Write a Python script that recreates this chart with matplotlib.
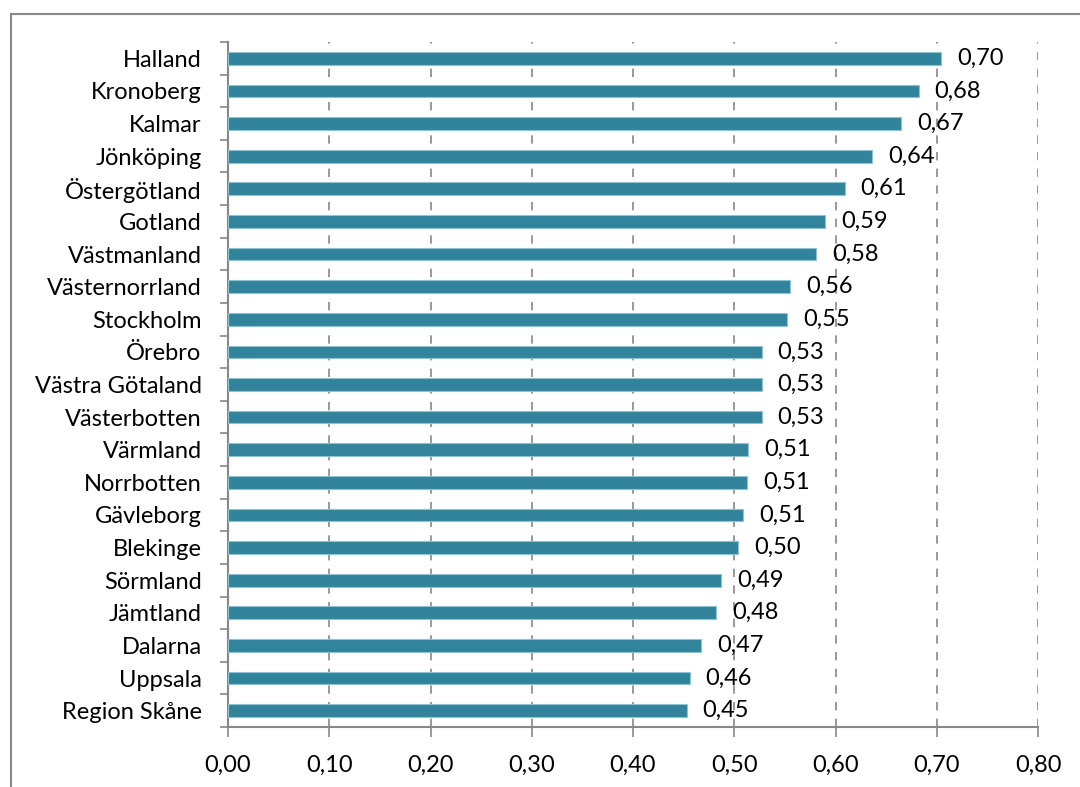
import matplotlib
matplotlib.use("Agg")
import matplotlib.pyplot as plt
from matplotlib.patches import Rectangle
from matplotlib.ticker import FixedLocator

regions = ["Halland", "Kronoberg", "Kalmar", "Jönköping", "Östergötland", "Gotland",
           "Västmanland", "Västernorrland", "Stockholm", "Örebro", "Västra Götaland",
           "Västerbotten", "Värmland", "Norrbotten", "Gävleborg", "Blekinge",
           "Sörmland", "Jämtland", "Dalarna", "Uppsala", "Region Skåne"]
values = [0.704, 0.682, 0.665, 0.636, 0.609, 0.590, 0.581, 0.555, 0.552, 0.527, 0.527,
          0.527, 0.514, 0.513, 0.509, 0.504, 0.487, 0.482, 0.467, 0.456, 0.453]
xticks = [0.0, 0.1, 0.2, 0.3, 0.4, 0.5, 0.6, 0.7, 0.8]

plt.rcParams['font.family'] = ['Lato', 'DejaVu Sans']
FS = 17

fig = plt.figure(figsize=(10.8, 7.87), dpi=100)
ax = fig.add_axes([228/1080, 1-727/787, 810/1080, 685/787])

n = len(regions)
ypos = list(range(n))[::-1]
bar_color = "#31849B"
ax.barh(ypos, values, height=0.39, color=bar_color, edgecolor="#8FC3D0", linewidth=0.8, zorder=3)

for y, v in zip(ypos, values):
    ax.annotate(f"{v:.2f}".replace(".", ","), xy=(v, y), xytext=(16, 0),
                textcoords="offset pixels", ha="left", va="center", fontsize=FS, color="black", zorder=4)

ax.set_xlim(0, 0.8)
ax.set_ylim(-0.5, n - 0.5)
ax.set_xticks(xticks)
ax.set_xticklabels([f"{t:.2f}".replace(".", ",") for t in xticks], fontsize=FS)
ax.set_yticks(ypos)
ax.set_yticklabels(regions, fontsize=FS)
ax.tick_params(axis='y', which='major', length=0, pad=19)
ax.yaxis.set_minor_locator(FixedLocator([i - 0.5 for i in range(n + 1)]))
ax.tick_params(axis='y', which='minor', length=6, width=1.2, color="#888888")
ax.tick_params(axis='x', which='major', length=7, width=1.2, color="#888888", pad=13)

for t in xticks[1:]:
    ax.axvline(t, color="#888888", linestyle=(0, (5, 5)), linewidth=1.2, zorder=1)

for s in ["top", "right"]:
    ax.spines[s].set_visible(False)
for s in ["left", "bottom"]:
    ax.spines[s].set_color("#888888")
    ax.spines[s].set_linewidth(1.5)

fig.patches.append(Rectangle((11/1080, -0.1), 1.2, 1 - 14/787 + 0.1, transform=fig.transFigure,
                             fill=False, edgecolor="#888888", linewidth=1.5))

fig.savefig("out.png", dpi=100)
